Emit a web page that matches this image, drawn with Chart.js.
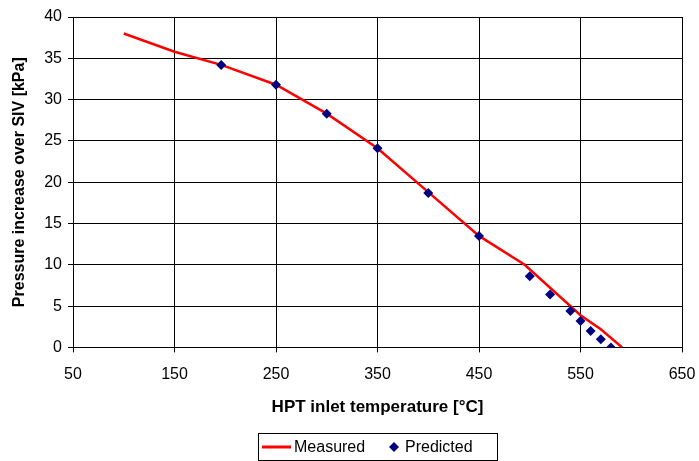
<!DOCTYPE html>
<html>
<head>
<meta charset="utf-8">
<script src="https://cdn.jsdelivr.net/npm/chart.js@4"></script>
<style>
html,body{margin:0;padding:0;background:#fff;}
#wrap{width:699px;height:461px;}
</style>
</head>
<body>
<div id="wrap"><canvas id="c" width="699" height="461"></canvas></div>
<script>
const measuredX = [100, 150, 196, 250, 300, 350, 400, 450, 495, 550, 570, 591];
const measuredY = [38, 35.8, 34.2, 31.8, 28.3, 24.1, 18.8, 13.5, 10.0, 3.9, 2.2, 0];
const predictedX = [196, 250, 300, 350, 400, 450, 500, 520, 540, 550, 560, 570, 580];
const predictedY = [34.2, 31.8, 28.3, 24.1, 18.7, 13.5, 8.6, 6.4, 4.4, 3.2, 2.0, 1.0, 0];
const xTicks = [50, 150, 250, 350, 450, 550, 650];
const yTicks = [0, 5, 10, 15, 20, 25, 30, 35, 40];

const FONT = "'Liberation Sans', Arial, sans-serif";

// Boxed legend under the chart, drawn from the datasets' labels and colours
const boxedLegend = {
  id: 'boxedLegend',
  afterDraw(chart) {
    const ctx = chart.ctx;
    const ds = chart.data.datasets;
    const cy = 447;
    ctx.save();
    ctx.strokeStyle = '#000';
    ctx.lineWidth = 1;
    ctx.strokeRect(258.5, 433.5, 239, 27);
    ctx.strokeStyle = ds[0].borderColor;
    ctx.lineWidth = 3;
    ctx.beginPath();
    ctx.moveTo(262, cy);
    ctx.lineTo(291, cy);
    ctx.stroke();
    ctx.font = '16px ' + FONT;
    ctx.fillStyle = '#000';
    ctx.textBaseline = 'middle';
    ctx.textAlign = 'left';
    ctx.fillText(ds[0].label, 294, cy + 1);
    ctx.fillStyle = ds[1].backgroundColor;
    ctx.beginPath();
    ctx.moveTo(394, cy - 5);
    ctx.lineTo(399, cy);
    ctx.lineTo(394, cy + 5);
    ctx.lineTo(389, cy);
    ctx.closePath();
    ctx.fill();
    ctx.fillStyle = '#000';
    ctx.fillText(ds[1].label, 405, cy + 1);
    ctx.restore();
  }
};

new Chart(document.getElementById('c'), {
  type: 'scatter',
  data: {
    datasets: [
      {
        label: 'Measured',
        type: 'line',
        data: measuredX.map((x, i) => ({x, y: measuredY[i]})),
        borderColor: '#ff0000',
        backgroundColor: '#ff0000',
        borderWidth: 2.5,
        pointRadius: 0,
        tension: 0,
        fill: false,
        order: 2
      },
      {
        label: 'Predicted',
        data: predictedX.map((x, i) => ({x, y: predictedY[i]})),
        borderColor: '#000080',
        backgroundColor: '#000080',
        pointStyle: 'rectRot',
        pointRadius: 5,
        pointBorderWidth: 0,
        order: 1
      }
    ]
  },
  options: {
    responsive: false,
    animation: false,
    devicePixelRatio: 1,
    layout: { padding: { top: 17, right: 17, left: 7, bottom: 39 } },
    plugins: {
      tooltip: { enabled: false },
      legend: { display: false }
    },
    scales: {
      x: {
        type: 'linear',
        min: 50, max: 650,
        afterBuildTicks(scale) { scale.ticks = xTicks.map(v => ({value: v})); },
        afterFit(scale) { scale.paddingLeft = 0; scale.paddingRight = 0; },
        ticks: { font: { family: FONT, size: 16 }, color: '#000', padding: 13, maxRotation: 0 },
        grid: { color: '#000', lineWidth: 1, tickLength: 5, drawTicks: true },
        border: { color: '#000', width: 1 },
        title: { display: true, text: 'HPT inlet temperature [°C]', font: { family: FONT, size: 17, weight: 'bold' }, color: '#000', padding: { top: 0, bottom: 4 } }
      },
      y: {
        min: 0, max: 40,
        afterBuildTicks(scale) { scale.ticks = yTicks.map(v => ({value: v})); },
        afterFit(scale) { scale.width = 66; scale.paddingTop = 0; scale.paddingBottom = 0; },
        ticks: { font: { family: FONT, size: 16 }, color: '#000', padding: 6 },
        grid: { color: '#000', lineWidth: 1, tickLength: 5, drawTicks: true },
        border: { color: '#000', width: 1 },
        title: { display: true, text: 'Pressure increase over SIV [kPa]', font: { family: FONT, size: 16, weight: 'bold' }, color: '#000', padding: 3 }
      }
    }
  },
  plugins: [boxedLegend]
});
</script>
</body>
</html>
